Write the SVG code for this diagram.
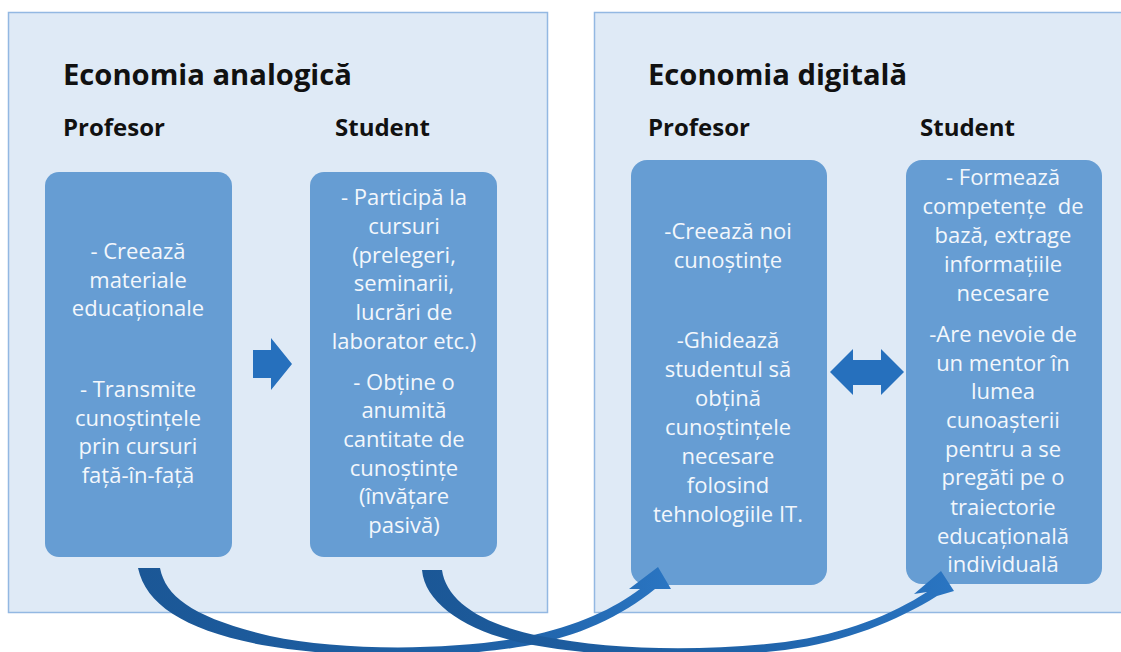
<svg xmlns="http://www.w3.org/2000/svg" width="1121" height="652" viewBox="0 0 1121 652">
<defs>
<style>
.panel{fill:#dfeaf6;stroke:#93b8e2;stroke-width:1.5}
.box{fill:#669dd3}
.title{font-family:"Open Sans","Liberation Sans",sans-serif;font-weight:bold;font-size:29.2px;fill:#111}
.head{font-family:"Open Sans","Liberation Sans",sans-serif;font-weight:bold;font-size:24px;fill:#111}
.t{font-family:"Open Sans","Liberation Sans",sans-serif;font-size:22px;fill:#f3f7fc;text-anchor:middle}
.blk{fill:#2670bd}
</style>
<linearGradient id="g1" gradientUnits="userSpaceOnUse" x1="140" y1="0" x2="670" y2="0">
<stop offset="0" stop-color="#1b5796"/><stop offset="0.7" stop-color="#1f62a8"/><stop offset="1" stop-color="#2a75c2"/>
</linearGradient>
<linearGradient id="g2" gradientUnits="userSpaceOnUse" x1="420" y1="0" x2="955" y2="0">
<stop offset="0" stop-color="#1b5796"/><stop offset="0.6" stop-color="#1f62a8"/><stop offset="1" stop-color="#2a75c2"/>
</linearGradient>
</defs>

<g id="panel-analog">
<rect class="panel" x="8.5" y="12.5" width="539" height="600"/>
<text class="title" x="63" y="85">Economia analogică</text>
<text class="head" x="63" y="136">Profesor</text>
<text class="head" x="335" y="136">Student</text>
</g>

<g id="panel-digital">
<rect class="panel" x="594.5" y="12.5" width="540" height="600"/>
<text class="title" x="648" y="85">Economia digitală</text>
<text class="head" x="648" y="136">Profesor</text>
<text class="head" x="920" y="136">Student</text>
</g>

<g id="analog-profesor">
<rect class="box" x="45" y="172" width="187" height="385" rx="14"/>
<text class="t" x="138" y="259">- Creează</text>
<text class="t" x="138" y="288">materiale</text>
<text class="t" x="138" y="316">educaționale</text>
<text class="t" x="138" y="397">- Transmite</text>
<text class="t" x="138" y="426">cunoștințele</text>
<text class="t" x="138" y="454">prin cursuri</text>
<text class="t" x="138" y="483">față-în-față</text>
</g>

<g id="analog-student">
<rect class="box" x="310" y="172" width="187" height="385" rx="14"/>
<text class="t" x="404" y="205">- Participă la</text>
<text class="t" x="404" y="234">cursuri</text>
<text class="t" x="404" y="263">(prelegeri,</text>
<text class="t" x="404" y="291">seminarii,</text>
<text class="t" x="404" y="320">lucrări de</text>
<text class="t" x="404" y="349">laborator etc.)</text>
<text class="t" x="404" y="390">- Obține o</text>
<text class="t" x="404" y="418">anumită</text>
<text class="t" x="404" y="447">cantitate de</text>
<text class="t" x="404" y="476">cunoștințe</text>
<text class="t" x="404" y="504">(învățare</text>
<text class="t" x="404" y="533">pasivă)</text>
</g>

<g id="digital-profesor">
<rect class="box" x="631" y="160" width="196" height="425" rx="16"/>
<text class="t" x="728" y="239">-Creează noi</text>
<text class="t" x="728" y="268">cunoștințe</text>
<text class="t" x="728" y="348">-Ghidează</text>
<text class="t" x="728" y="377">studentul să</text>
<text class="t" x="728" y="406">obțină</text>
<text class="t" x="728" y="435">cunoștințele</text>
<text class="t" x="728" y="464">necesare</text>
<text class="t" x="728" y="493">folosind</text>
<text class="t" x="728" y="522">tehnologiile IT.</text>
</g>

<g id="digital-student">
<rect class="box" x="906" y="160" width="196" height="424" rx="16"/>
<text class="t" x="1003" y="185">- Formează</text>
<text class="t" x="1003" y="214">competențe&#160; de</text>
<text class="t" x="1003" y="243">bază, extrage</text>
<text class="t" x="1003" y="272">informațiile</text>
<text class="t" x="1003" y="301">necesare</text>
<text class="t" x="1003" y="342">-Are nevoie de</text>
<text class="t" x="1003" y="371">un mentor în</text>
<text class="t" x="1003" y="399">lumea</text>
<text class="t" x="1003" y="428">cunoașterii</text>
<text class="t" x="1003" y="457">pentru a se</text>
<text class="t" x="1003" y="485">pregăti pe o</text>
<text class="t" x="1003" y="515">traiectorie</text>
<text class="t" x="1003" y="544">educațională</text>
<text class="t" x="1003" y="572">individuală</text>
</g>

<g id="connectors">
<polygon class="blk" points="253,350 271,350 271,338 292,364 271,390 271,378 253,378"/>
<polygon class="blk" points="830,372 853,349 853,360 881,360 881,349 904,372 881,395 881,385 853,385 853,395"/>
<path fill="url(#g1)" d="M160,568 C166,598 195,618 270,636 C340,651 450,651 525,637 C578,626 615,608 640,589 L629,589 L658,567 L671,589 L655,589 C622,616 578,637 525,646 C450,659 340,659 262,645 C185,630 146,605 138,568 Z"/>
<path fill="url(#g2)" d="M442,570 C446,600 480,624 540,636 C610,650 700,652 785,642 C845,634 893,614 927,592 L914,594 L941,571 L954,591 L937,596 C897,621 845,642 785,650 C700,660 605,658 533,645 C470,634 425,605 422,570 Z"/>
</g>
</svg>
